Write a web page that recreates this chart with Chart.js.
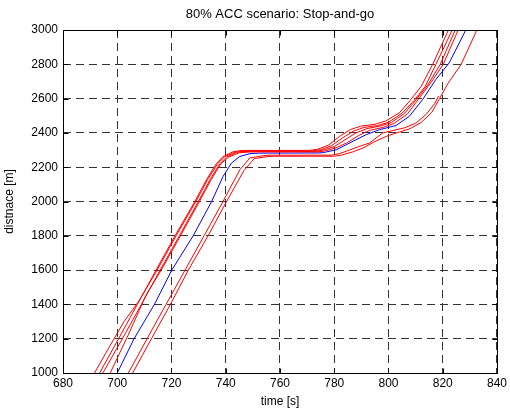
<!DOCTYPE html>
<html>
<head>
<meta charset="utf-8">
<script src="https://cdn.jsdelivr.net/npm/chart.js@4.4.0/dist/chart.umd.min.js"></script>
<style>
  html, body { margin: 0; padding: 0; background: #fff; }
  #wrap { width: 510px; height: 411px; }
</style>
</head>
<body>
<div id="wrap"><canvas id="accChart" width="510" height="411"></canvas></div>
<script>
// axis ranges (ticks every 20 s / 200 m)
const timeRange = [680, 840];
const distRange = [1000, 3000];
const chartTitle = '80% ACC scenario: Stop-and-go';

// leading vehicle (blue)
const blueT = [700, 706.2, 713.7, 720.1, 728, 734.8, 739, 742.1, 745.2, 748.9, 752, 774, 776, 780.8, 786.9, 791.8, 796.7, 802.8, 807.7, 812.6, 817.5, 822.4, 828.5];
const blueD = [1000, 1200, 1400, 1600, 1800, 2000, 2146, 2224, 2263, 2279, 2282, 2283, 2285, 2302, 2351, 2390, 2419, 2443, 2497, 2595, 2712, 2809, 3000];

// red traces (bounds)
const red1T = [693.5, 700.5, 707.4, 714.3, 721.3, 728.6, 733, 736.5, 739, 742.7, 746, 771, 774, 778, 782, 786, 790, 795, 799, 804, 808, 812, 816.3, 822.1];
const red1D = [1000, 1200, 1400, 1600, 1800, 2000, 2130, 2220, 2262, 2290, 2298, 2298, 2305, 2330, 2380, 2420, 2440, 2450, 2470, 2517, 2590, 2670, 2800, 3000];

const red2T = [694.7, 701.9, 708.9, 715.8, 722.9, 729.9, 734.3, 737.8, 740.3, 744, 748, 772, 775, 779, 783, 787, 791, 796, 800, 805, 809.5, 813.5, 817.5, 823.5];
const red2D = [1000, 1200, 1400, 1600, 1800, 2000, 2130, 2220, 2258, 2287, 2295, 2295, 2302, 2325, 2370, 2410, 2432, 2443, 2462, 2515, 2590, 2670, 2800, 3000];

const red3T = [691.6, 697, 702.5, 708, 714.7, 721.7, 729, 733.4, 737, 739.5, 743.5, 747, 773, 776, 780, 784, 788, 792, 797, 801, 806, 810.5, 814.5, 819.1, 824.6];
const red3D = [1000, 1150, 1300, 1420, 1600, 1800, 2000, 2130, 2220, 2260, 2288, 2292, 2292, 2300, 2320, 2360, 2400, 2425, 2440, 2460, 2515, 2600, 2680, 2800, 3000];

const red4T = [697.4, 704, 710.6, 716.2, 723.3, 730.3, 734.7, 738.2, 741, 745, 749, 774, 777, 781, 785, 789, 793, 798, 802, 807, 811.2, 815.5, 820.2, 825.7];
const red4D = [1000, 1220, 1454, 1600, 1800, 2000, 2130, 2220, 2258, 2284, 2289, 2289, 2296, 2315, 2345, 2385, 2415, 2432, 2455, 2510, 2600, 2690, 2800, 3000];

const red5T = [704.1, 711, 718, 725, 732, 739, 742, 745.2, 748.9, 753.8, 756, 779, 782, 785.6, 789, 793, 797.9, 802, 806, 810.2, 814, 817, 818.5];
const red5D = [1000, 1200, 1400, 1600, 1800, 2000, 2090, 2185, 2254, 2267, 2270, 2270, 2280, 2300, 2320, 2341, 2400, 2415, 2430, 2458, 2510, 2570, 2615];

const red6T = [705.7, 712.6, 719.6, 726.2, 733.5, 740.3, 743.5, 746.7, 750.5, 755.5, 758, 780, 783, 787, 791, 795, 800, 804, 808, 812, 816, 818.8, 822, 826.8, 832.6];
const red6D = [1000, 1200, 1400, 1600, 1800, 2000, 2090, 2180, 2250, 2262, 2264, 2264, 2272, 2290, 2315, 2350, 2385, 2405, 2425, 2460, 2520, 2600, 2690, 2800, 3000];

// ghep mang t, d thanh diem {x, y}
function toPoints(ts, ds) {
    return ts.map(function(t, i) { return { x: t, y: ds[i] }; });
}

function trace(ts, ds, color) {
    return {
        data: toPoints(ts, ds),
        showLine: true,
        borderColor: color,
        borderWidth: 1,
        pointRadius: 0,
        fill: false,
        tension: 0
    };
}

const fontFamily = "'Liberation Sans', Arial, sans-serif";
const tickFont = { family: fontFamily, size: 12 };

// khung, vach chia huong vao trong va tieu de (kieu MATLAB)
const matlabBox = {
    id: 'matlabBox',
    afterDraw: function(chart) {
        const ctx = chart.ctx;
        const a = chart.chartArea;
        const sx = chart.scales.x;
        const sy = chart.scales.y;
        const L = Math.round(a.left) + 0.5, R = Math.round(a.right) + 0.5;
        const T = Math.round(a.top) + 0.5, B = Math.round(a.bottom) + 0.5;
        ctx.save();
        ctx.strokeStyle = '#000';
        ctx.lineWidth = 1;
        ctx.setLineDash([]);
        ctx.strokeRect(L, T, R - L, B - T);
        ctx.beginPath();
        sx.ticks.forEach(function(t) {
            const px = Math.round(sx.getPixelForValue(t.value)) + 0.5;
            ctx.moveTo(px, B); ctx.lineTo(px, B - 5);
            ctx.moveTo(px, T); ctx.lineTo(px, T + 5);
        });
        sy.ticks.forEach(function(t) {
            const py = Math.round(sy.getPixelForValue(t.value)) + 0.5;
            ctx.moveTo(L, py); ctx.lineTo(L + 5, py);
            ctx.moveTo(R, py); ctx.lineTo(R - 5, py);
        });
        ctx.stroke();
        // tieu de canh giua vung ve
        ctx.fillStyle = '#000';
        ctx.font = '13px ' + fontFamily;
        ctx.textAlign = 'center';
        ctx.textBaseline = 'middle';
        ctx.fillText(chartTitle, (a.left + a.right) / 2, 14);
        ctx.restore();
    }
};

// so nguyen, khong dau phay
function plainLabel(value) { return String(value); }

new Chart(document.getElementById('accChart').getContext('2d'), {
    type: 'scatter',
    data: {
        datasets: [
            trace(red1T, red1D, '#ff0000'),
            trace(red2T, red2D, '#ff0000'),
            trace(red3T, red3D, '#ff0000'),
            trace(red4T, red4D, '#ff0000'),
            trace(red5T, red5D, '#ff0000'),
            trace(red6T, red6D, '#ff0000'),
            trace(blueT, blueD, '#0000ff')
        ]
    },
    options: {
        responsive: false,
        animation: false,
        layout: { padding: { left: 0, right: 12, top: 30, bottom: 0 } },
        plugins: {
            legend: { display: false },
            tooltip: { enabled: false },
            title: { display: false }
        },
        scales: {
            x: {
                type: 'linear',
                min: timeRange[0],
                max: timeRange[1],
                ticks: { stepSize: 20, color: '#000', font: tickFont, padding: 3, maxRotation: 0, callback: plainLabel },
                grid: { color: '#333', lineWidth: 1, drawTicks: false },
                border: { display: false, dash: [8, 5] },
                title: { display: true, text: 'time [s]', color: '#000', font: tickFont, padding: { top: 0, bottom: 2 } },
                afterFit: function(scale) { scale.height = 38; }
            },
            y: {
                type: 'linear',
                min: distRange[0],
                max: distRange[1],
                ticks: { stepSize: 200, color: '#000', font: tickFont, padding: 5, callback: plainLabel },
                grid: { color: '#333', lineWidth: 1, drawTicks: false },
                border: { display: false, dash: [8, 5] },
                title: { display: true, text: 'distnace [m]', color: '#000', font: tickFont, padding: { top: 2, bottom: 0 } },
                afterFit: function(scale) { scale.width = 63; }
            }
        }
    },
    plugins: [matlabBox]
});
</script>
</body>
</html>
